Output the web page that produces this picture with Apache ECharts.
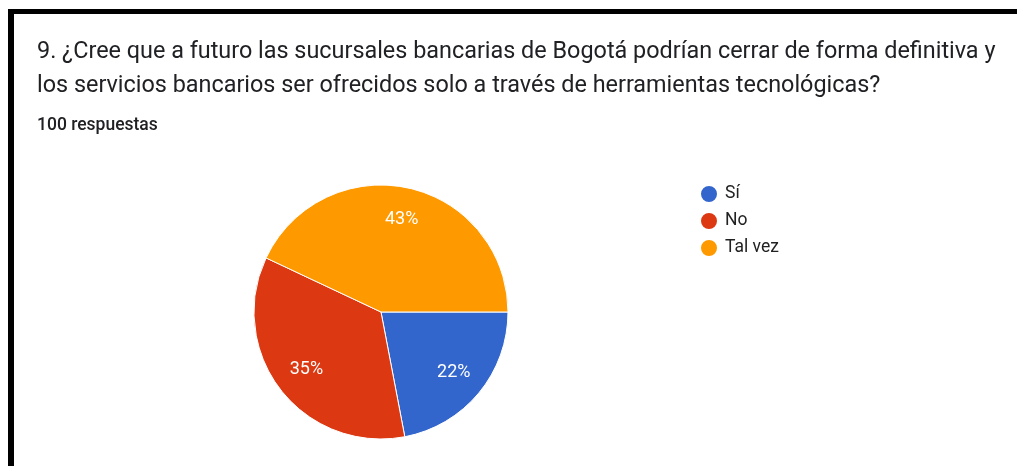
<!DOCTYPE html>
<html>
<head>
<meta charset="utf-8">
<script src="https://cdn.jsdelivr.net/npm/echarts@6/dist/echarts.min.js"></script>
<style>
  html, body { margin: 0; padding: 0; background: #fff; }
  #chart { width: 1017px; height: 466px; }
</style>
</head>
<body>
<div id="chart"></div>
<script>
const titleLines = [
  '9. ¿Cree que a futuro las sucursales bancarias de Bogotá podrían cerrar de forma definitiva y',
  'los servicios bancarios ser ofrecidos solo a través de herramientas tecnológicas?'
];
const responsesLabel = '100 respuestas';
const categories = ['Sí', 'No', 'Tal vez'];
const percents = [22, 35, 43];
const colors = ['#3366cc', '#dc3912', '#ff9900'];

const pieData = categories.map((name, i) => ({ name, value: percents[i] }));

const chart = echarts.init(document.getElementById('chart'), null, { renderer: 'canvas' });

// the slices themselves, plus a transparent copy that is bigger so the
// "inside" labels land further out, like in the google forms chart
const pieCenter = [381, 312];
const pieRadius = 127;

chart.setOption({
  backgroundColor: '#ffffff',
  animation: false,
  color: colors,
  title: [
    {
      text: titleLines.join('\n'),
      left: 37,
      top: 35,
      padding: 0,
      textStyle: {
        fontFamily: 'Roboto',
        fontSize: 23.4,
        fontWeight: 'normal',
        color: '#202124',
        lineHeight: 34
      }
    },
    {
      text: responsesLabel,
      left: 37,
      top: 117,
      padding: 0,
      textStyle: {
        fontFamily: 'Roboto',
        fontSize: 17.5,
        fontWeight: 500,
        color: '#202124'
      }
    }
  ],
  legend: {
    orient: 'vertical',
    left: 699,
    top: 184,
    padding: 0,
    icon: 'circle',
    itemWidth: 18,
    itemHeight: 18,
    itemGap: 7,
    data: categories,
    textStyle: {
      fontFamily: 'Roboto',
      fontSize: 17.5,
      color: '#222222',
      padding: [0, 0, 0, 2]
    }
  },
  graphic: [
    { type: 'rect', shape: { x: 8, y: 9, width: 6, height: 457 }, style: { fill: '#000' } },
    { type: 'rect', shape: { x: 8, y: 9, width: 1009, height: 5 }, style: { fill: '#000' } }
  ],
  series: [
    {
      type: 'pie',
      center: pieCenter,
      radius: pieRadius,
      startAngle: 0,
      clockwise: true,
      data: pieData,
      itemStyle: { borderColor: '#ffffff', borderWidth: 1 },
      label: { show: false },
      labelLine: { show: false },
      emphasis: { disabled: true }
    },
    {
      type: 'pie',
      center: pieCenter,
      radius: pieRadius * 1.44,
      startAngle: 0,
      clockwise: true,
      silent: true,
      legendHoverLink: false,
      data: pieData,
      itemStyle: { color: 'rgba(0,0,0,0)', borderWidth: 0 },
      label: {
        position: 'inside',
        formatter: '{c}%',
        fontFamily: 'Roboto',
        fontSize: 18,
        color: '#ffffff'
      },
      labelLine: { show: false },
      emphasis: { disabled: true }
    }
  ]
});
</script>
</body>
</html>
